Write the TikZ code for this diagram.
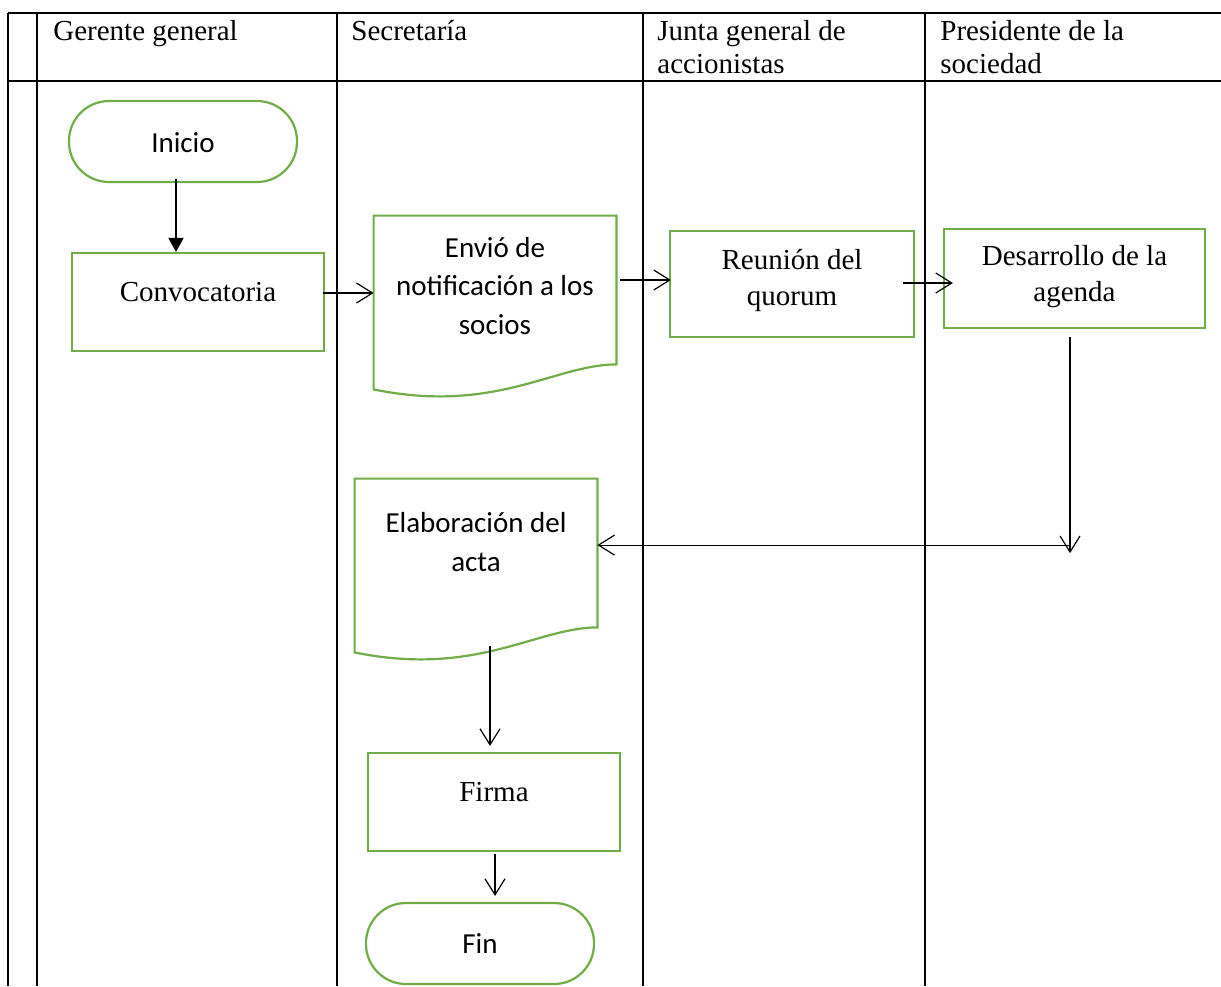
\documentclass[tikz,border=0pt]{standalone}
\usepackage{fontspec}
\setmainfont{Liberation Serif}
\newfontfamily\calibri{Carlito}
\usepackage{xcolor}
\usetikzlibrary{arrows.meta,positioning,calc}
\definecolor{flowgreen}{RGB}{112,173,71}
\newcommand{\docoutline}[1]{%
  \draw[docline] (#1.north west) -- (#1.north east) -- (#1.south east)
    .. controls ($(#1.south east)!0.25!(#1.south west)$) and ($(#1.south)+(0,50)$)
    .. ($(#1.south west)+(0,25)$) -- cycle;}

\begin{document}
\begin{tikzpicture}[x=0.5pt,y=-0.5pt,
  lane/.style={line width=1.2pt},
  shapebox/.style={draw=flowgreen,line width=1.1pt,inner sep=0pt},
  proc/.style={shapebox,rectangle},
  term/.style={shapebox,rounded corners=20pt},
  doc/.style={inner sep=0pt},
  docline/.style={draw=flowgreen,line width=1.1pt},
  times/.style={font=\fontsize{14.5}{18}\selectfont,align=center},
  cal/.style={font=\calibri\fontsize{14.5}{19.2}\selectfont,align=center},
  head/.style={font=\fontsize{14.5}{16.5}\selectfont,align=left,anchor=base west,inner sep=0pt},
  flow/.style={-{Straight Barb[length=8pt,width=10pt]},line width=0.6pt},
  start/.style={-{Triangle[length=7pt,width=7.5pt]},line width=1pt}]
\useasboundingbox (0,0) rectangle (1221,986);
% table
\draw[lane] (8,13) -- (1221,13);
\draw[lane] (8,81) -- (1221,81);
\foreach \x in {8,37,337,643,925} \draw[lane] (\x,13) -- (\x,986);
\node[head] (hgerente) at (53,40) {Gerente general};
\node[head] (hsecre) at (351,40) {Secretaría};
\node[head] (hjunta) at (657,73) {Junta general de\\accionistas};
\node[head] (hpres) at (940,73) {Presidente de la\\sociedad};
% shapes
\node[term,minimum width=114pt,minimum height=40.5pt,label={[cal,yshift=-0.75pt]center:Inicio}] (inicio) at (183,141.5) {};
\node[proc,minimum width=126pt,minimum height=49pt,label={[times,yshift=5pt]center:Convocatoria}] (convoc) at (198,302) {};
\node[doc,minimum width=121pt,minimum height=74pt,label={[cal,yshift=2pt]center:{Envió de\\notificación a los\\socios}}] (envio) at (495,290) {};
\node[proc,minimum width=122pt,minimum height=53pt,label={[times,yshift=1.75pt]center:{Reunión del\\quorum}}] (reunion) at (792,284) {};
\node[proc,minimum width=130.5pt,minimum height=49.5pt,label={[times,yshift=0.75pt]center:{Desarrollo de la\\agenda}}] (desarrollo) at (1074.5,278.5) {};
\node[doc,minimum width=121pt,minimum height=74pt,label={[cal,yshift=5.5pt]center:{Elaboración del\\acta}}] (elabora) at (476,553) {};
\node[proc,minimum width=126pt,minimum height=49pt,label={[times,yshift=5pt]center:Firma}] (firma) at (494,802) {};
\node[term,minimum width=114pt,minimum height=40.5pt,label={[cal]center:Fin}] (fin) at (480,943.5) {};
\docoutline{envio}
\docoutline{elabora}
% connectors
\coordinate (corner) at ($(desarrollo.south)+(-4.5,224)$);
\coordinate (join) at ($(corner)+(0,-8)$);
\draw[start] ($(inicio.south)+(-7,-4)$) -- ($(inicio.south |- convoc.north)+(-7,0)$);
\draw[flow] ($(convoc.east)+(-2,-9)$) -- ($(convoc.east -| envio.west)+(0,-9)$);
\draw[flow] ($(envio.east)+(4,-10)$) -- ($(envio.east -| reunion.west)+(2,-10)$);
\draw[flow] ($(reunion.east)+(-12,-1)$) -- ($(reunion.east -| desarrollo.west)+(10,-1)$);
\draw[flow] ($(desarrollo.south)+(-4.5,8)$) -- (corner);
\draw[flow] (join) -- (join -| elabora.east);
\draw[flow] ($(elabora.south)+(14,19)$) -- ($(firma.north)+(-4,-6)$);
\draw[flow] ($(firma.south)+(1,2)$) -- ($(firma.south |- fin.north)+(1,-6)$);
\end{tikzpicture}
\end{document}
